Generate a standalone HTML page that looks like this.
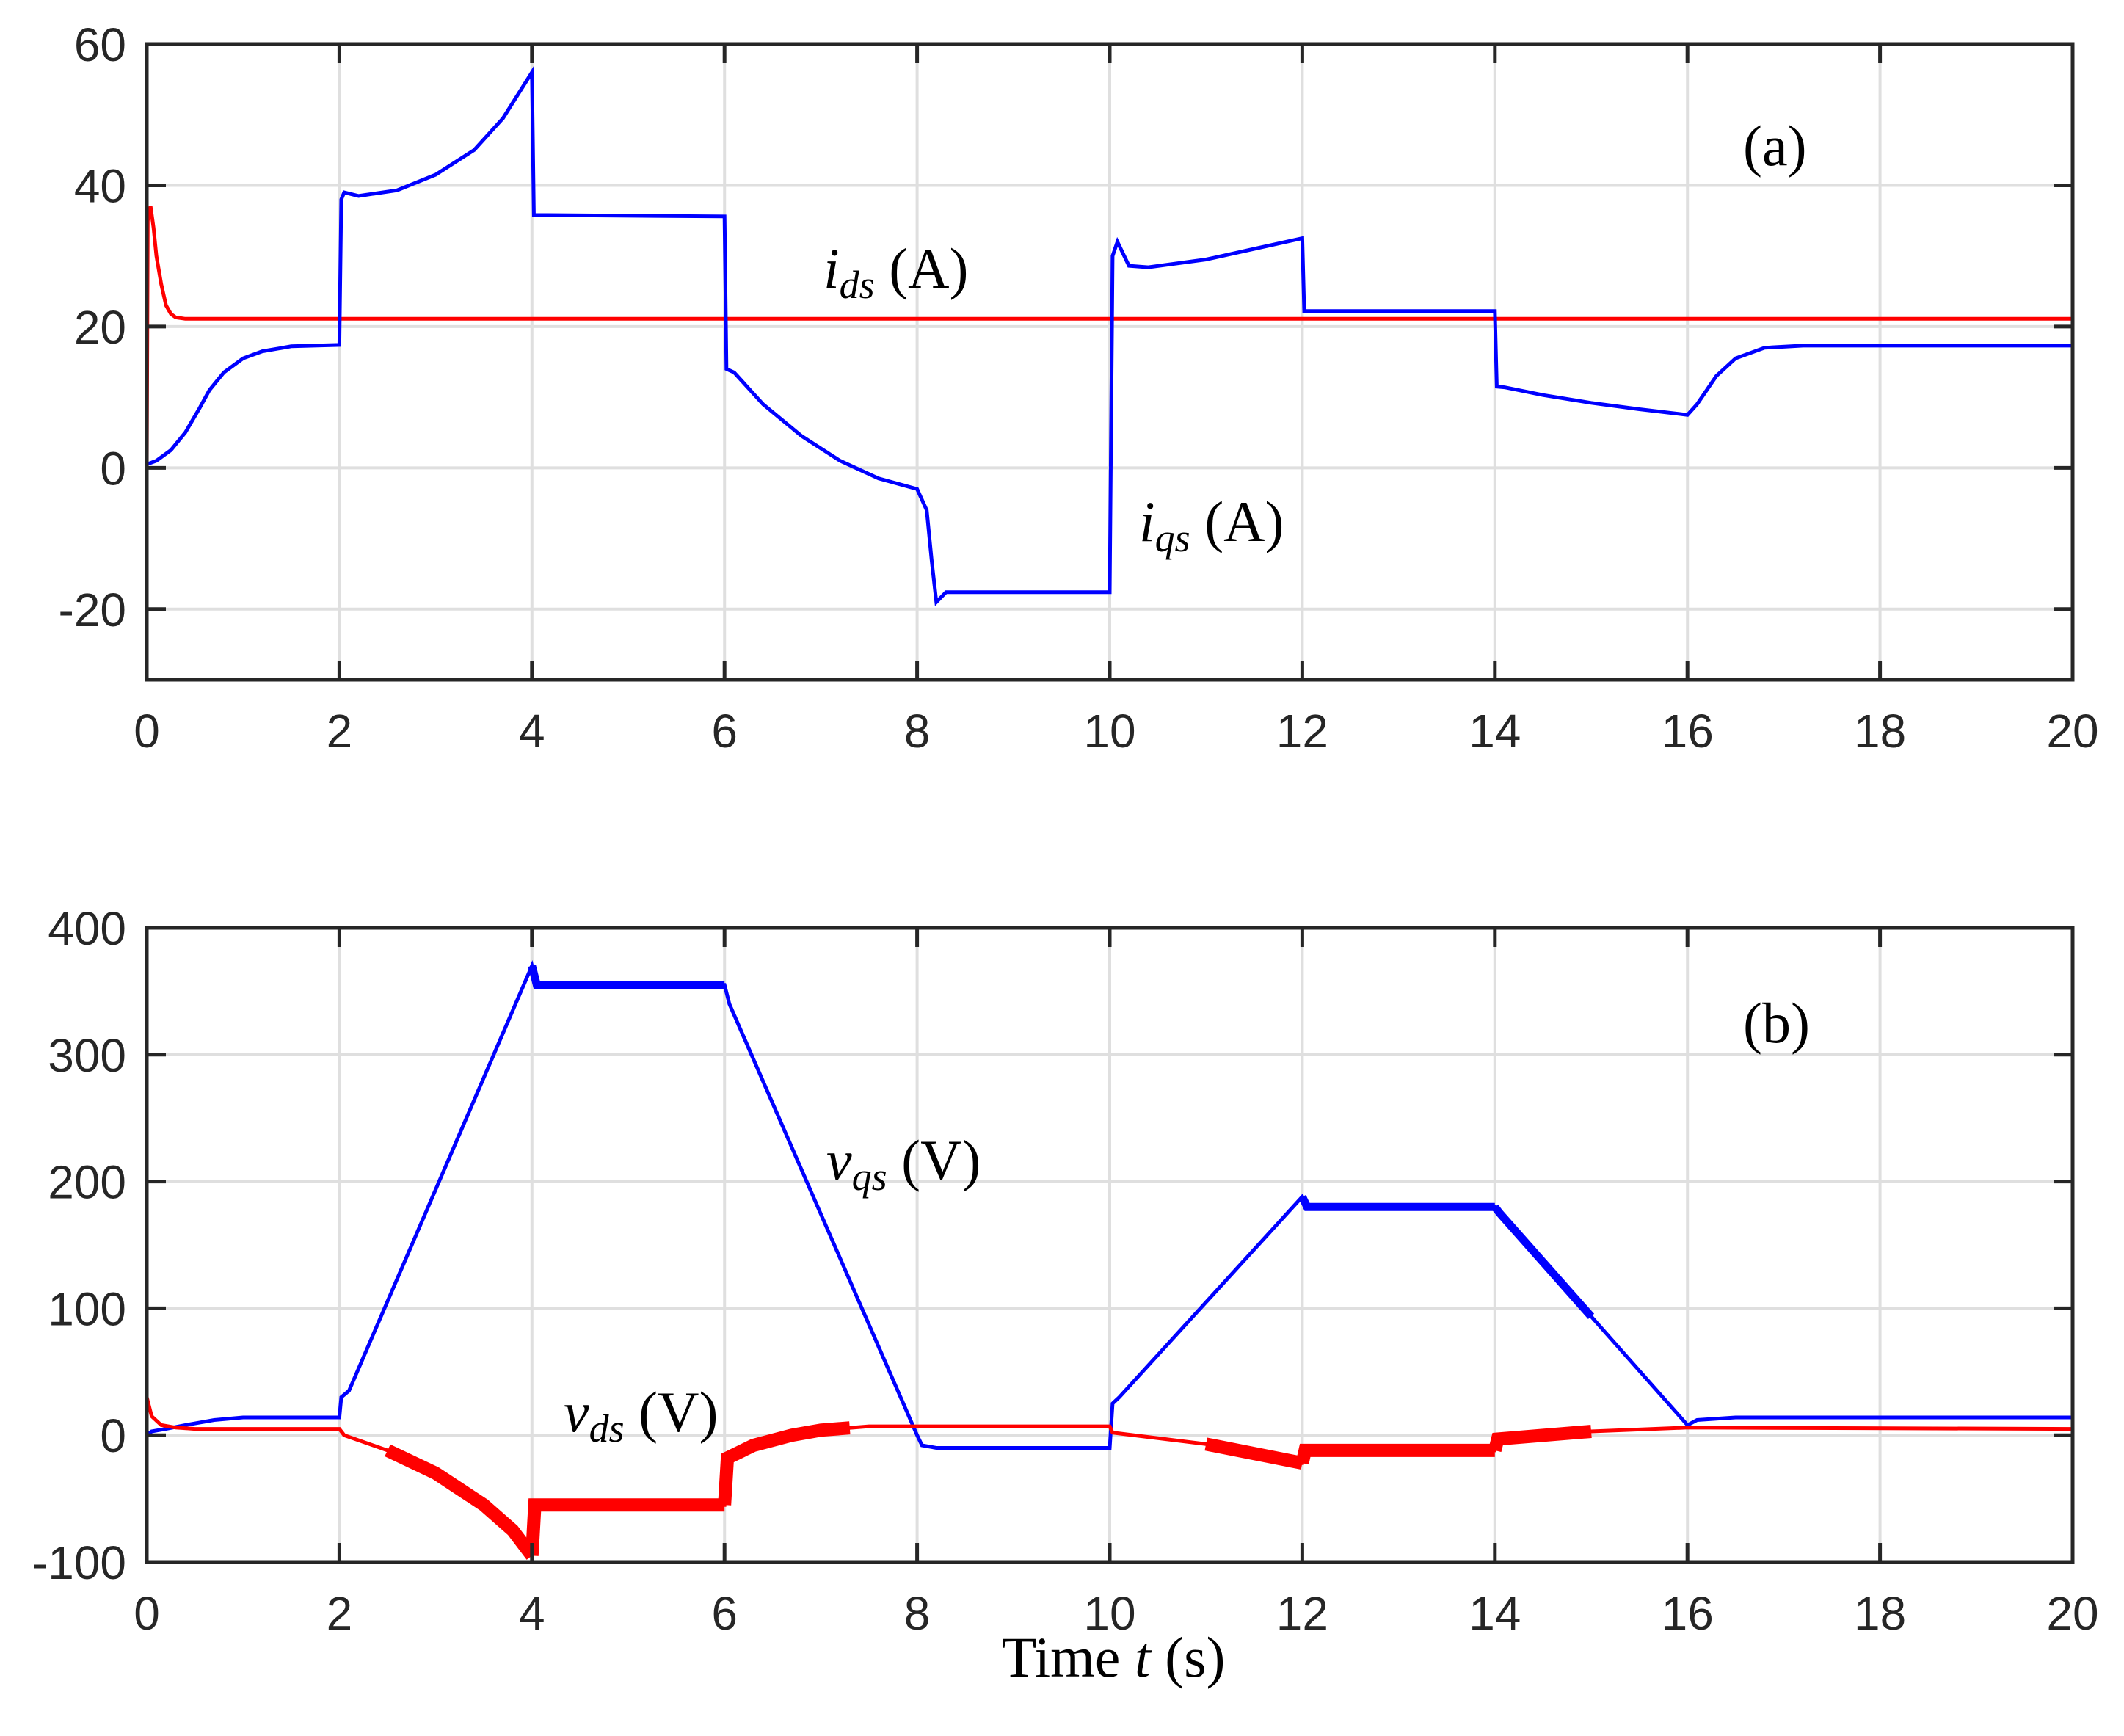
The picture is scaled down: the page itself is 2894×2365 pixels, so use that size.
<!DOCTYPE html>
<html><head><meta charset="utf-8">
<style>
html,body{margin:0;padding:0;background:#fff;}
svg{display:block;}
.tick{font-family:"Liberation Sans",sans-serif;font-size:64px;fill:#262626;}
.math{font-family:"Liberation Serif",serif;font-size:78px;fill:#000;}
</style></head>
<body>
<svg id="chart" width="2894" height="2365" viewBox="0 0 2894 2365" xmlns="http://www.w3.org/2000/svg">
<g id="gA"></g>
<g id="gB"></g>
<text class="math" x="2375" y="225">(a)</text>
<text class="math" x="1122" y="392"><tspan font-style="italic">i</tspan><tspan font-style="italic" font-size="54" dy="14">ds</tspan><tspan dy="-14"> (A)</tspan></text>
<text class="math" x="1552" y="737"><tspan font-style="italic">i</tspan><tspan font-style="italic" font-size="54" dy="14">qs</tspan><tspan dy="-14"> (A)</tspan></text>
<text class="math" x="2375" y="1420">(b)</text>
<text class="math" x="1126" y="1607"><tspan font-style="italic">v</tspan><tspan font-style="italic" font-size="54" dy="14">qs</tspan><tspan dy="-14"> (V)</tspan></text>
<text class="math" x="768" y="1950"><tspan font-style="italic">v</tspan><tspan font-style="italic" font-size="54" dy="14">ds</tspan><tspan dy="-14"> (V)</tspan></text>
<text class="math" x="1517" y="2284" text-anchor="middle">Time <tspan font-style="italic">t</tspan> (s)</text>
</svg>
<script>
const xTicks=[0,2,4,6,8,10,12,14,16,18,20];
const aTicks=[-20,0,20,40,60];
const bTicks=[-100,0,100,200,300,400];
const idsT=[0,0.01,0.04,0.07,0.1,0.15,0.2,0.25,0.3,0.4,20];
const idsV=[0,35,37,34,30,26,23,21.8,21.3,21.1,21.1];
const iqsT=[0,0.1,0.25,0.4,0.55,0.65,0.8,1.0,1.2,1.5,2,2.02,2.05,2.2,2.6,3.0,3.4,3.7,4,4.02,6,6.02,6.1,6.4,6.8,7.2,7.6,8,8.1,8.15,8.2,8.3,10,10.03,10.08,10.2,10.4,11,11.5,12,12.02,14,14.02,14.1,14.5,15,15.5,16,16.1,16.3,16.5,16.8,17.2,20];
const iqsV=[0.5,1,2.5,5,8.5,11,13.5,15.5,16.5,17.2,17.4,38,39,38.5,39.3,41.5,45,49.5,56,35.8,35.6,14,13.5,9,4.5,1,-1.5,-3,-6,-13,-19,-17.6,-17.6,30,32,28.6,28.4,29.5,31,32.5,22.2,22.2,11.5,11.4,10.3,9.2,8.3,7.5,9,13,15.5,17,17.3,17.3];
const vqsT=[0,0.05,0.2,0.4,0.7,1.0,2,2.02,2.1,4,4.05,6,6.05,8,8.05,8.2,10,10.03,10.1,12,12.05,14,14.05,16,16.1,16.5,20];
const vqsV=[0,3,5,8,12,14,14,30,35,370,355,355,340,0,-8,-10,-10,25,30,188,180,180,175,8,12,14,14];
const vdsT=[0,0.05,0.15,0.3,0.5,2,2.05,2.5,3,3.5,3.8,4,4.03,6,6.03,6.3,6.7,7,7.5,8,10,10.03,11,12,12.03,14,14.03,15,16,20];
const vdsV=[30,15,8,6,5,5,0,-12,-30,-55,-75,-95,-55,-55,-18,-8,0,4,7,7,7,2,-7,-22,-12,-12,-3,3,6,5];
const vdsThick=[[2.5,4],[4,6],[6,7.3],[11,12],[12,14],[14,15]];
const vqsThick=[[4,6],[12,14],[14,15]];
const NS="http://www.w3.org/2000/svg";
const L=200,R=2824;
function X(t){return L+(t-0)/(20-0)*(R-L);}
function mk(tag,attrs,parent){const e=document.createElementNS(NS,tag);for(const k in attrs)e.setAttribute(k,attrs[k]);parent.appendChild(e);return e;}
function path(T,V,Y,lo,hi){let d="";for(let i=0;i<T.length;i++){if(T[i]<lo||T[i]>hi)continue;d+=(d?"L":"M")+X(T[i]).toFixed(1)+","+Y(V[i]).toFixed(1);}return d;}
function interp(T,V,t){for(let i=1;i<T.length;i++){if(t<=T[i]){const f=(t-T[i-1])/((T[i]-T[i-1])||1);return V[i-1]+f*(V[i]-V[i-1]);}}return V[V.length-1];}
function rangePath(T,V,Y,a,b){const tt=[a];T.forEach(t=>{if(t>a&&t<b)tt.push(t);});tt.push(b);let d="";tt.forEach((t,i)=>{d+=(i?"L":"M")+X(t).toFixed(1)+","+Y(interp(T,V,t)).toFixed(1);});return d;}
function panel(g,top,bot,ymin,ymax,yt,lbl){
  const Y=v=>bot-(v-ymin)/(ymax-ymin)*(bot-top);
  xTicks.forEach(t=>{const l=mk("line",{x1:X(t),x2:X(t),y1:top,y2:bot,stroke:"#dfdfdf","stroke-width":4},g);
    
    });
  yt.forEach(v=>{const l=mk("line",{x1:L,x2:R,y1:Y(v),y2:Y(v),stroke:"#dfdfdf","stroke-width":4},g);
    
    });
  const clip=mk("clipPath",{id:"c"+lbl},g);mk("rect",{x:L,y:top,width:R-L,height:bot-top},clip);
  const s=mk("g",{"clip-path":"url(#c"+lbl+")"},g);
  
  
  const frame=mk("g",{},g);
  
  
  xTicks.forEach(t=>{mk("line",{x1:X(t),x2:X(t),y1:bot,y2:bot-26,stroke:"#262626","stroke-width":5},frame);mk("line",{x1:X(t),x2:X(t),y1:top,y2:top+26,stroke:"#262626","stroke-width":5},frame);
    const tx=mk("text",{x:X(t),y:bot+92,"text-anchor":"middle",class:"tick"},g);tx.textContent=t;
    
    });
  yt.forEach(v=>{mk("line",{x1:L,x2:L+26,y1:Y(v),y2:Y(v),stroke:"#262626","stroke-width":5},frame);mk("line",{x1:R,x2:R-26,y1:Y(v),y2:Y(v),stroke:"#262626","stroke-width":5},frame);
    const tx=mk("text",{x:172,y:Y(v)+23,"text-anchor":"end",class:"tick"},g);tx.textContent=v;
    
    });
  mk("rect",{x:L,y:top,width:R-L,height:bot-top,fill:"none",stroke:"#262626","stroke-width":5},frame);
  return {Y,s};
}
const A=panel(document.getElementById("gA"),60,926,-30,60,aTicks,"a");
let p=mk("path",{d:path(idsT,idsV,A.Y,0,20),fill:"none",stroke:"#ff0000","stroke-width":5},A.s);


p=mk("path",{d:path(iqsT,iqsV,A.Y,0,20),fill:"none",stroke:"#0000ff","stroke-width":5},A.s);


const B=panel(document.getElementById("gB"),1264,2128,-100,400,bTicks,"b");
p=mk("path",{d:path(vqsT,vqsV,B.Y,0,20),fill:"none",stroke:"#0000ff","stroke-width":5},B.s);


vqsThick.forEach(r=>{const q=mk("path",{d:rangePath(vqsT,vqsV,B.Y,r[0],r[1]),fill:"none",stroke:"#0000ff","stroke-width":11},B.s);
  
  });
p=mk("path",{d:path(vdsT,vdsV,B.Y,0,20),fill:"none",stroke:"#ff0000","stroke-width":5},B.s);


vdsThick.forEach(r=>{const q=mk("path",{d:rangePath(vdsT,vdsV,B.Y,r[0],r[1]),fill:"none",stroke:"#ff0000","stroke-width":18},B.s);
  
  });
</script>
</body></html>
